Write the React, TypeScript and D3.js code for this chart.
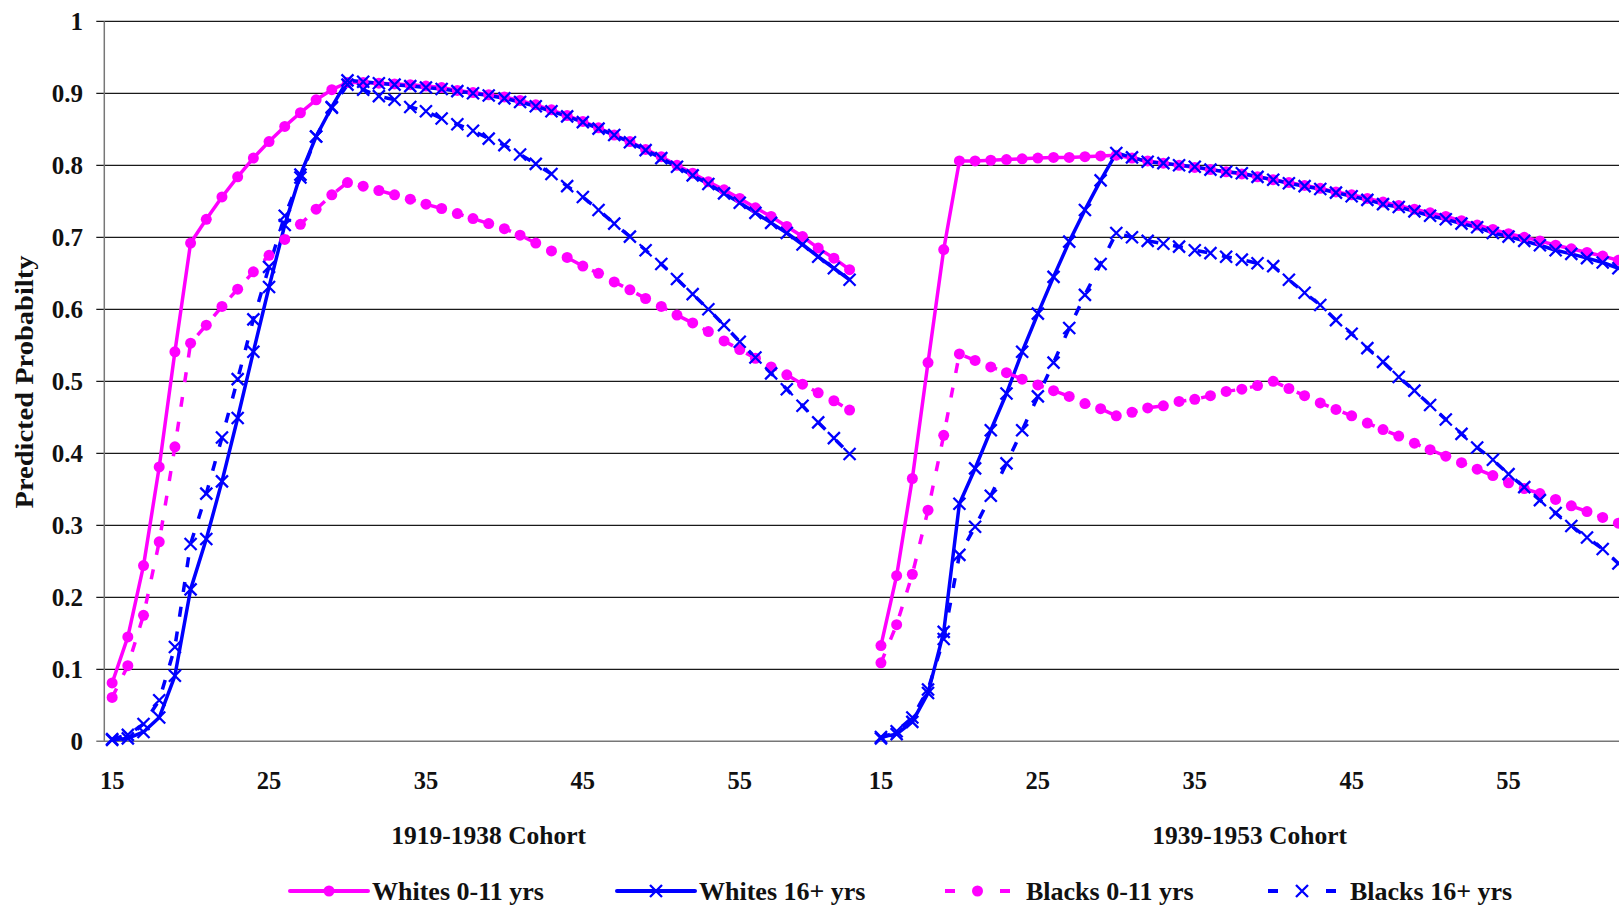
import React, { useEffect, useRef } from 'react';
import * as d3 from 'd3';

// ages shown in each cohort panel
const ages = d3.range(15, 63);
const cohorts = ['1919-1938 Cohort', '1939-1953 Cohort'];
const xTickAges = [15, 25, 35, 45, 55];
const yTicks = [0, 0.1, 0.2, 0.3, 0.4, 0.5, 0.6, 0.7, 0.8, 0.9, 1];
const yTickLabels = ['0', '0.1', '0.2', '0.3', '0.4', '0.5', '0.6', '0.7', '0.8', '0.9', '1'];

// 1919-1938 cohort
const whites011A = [0.081, 0.145, 0.244, 0.381, 0.541, 0.692, 0.725, 0.756, 0.784, 0.810, 0.833, 0.854, 0.873, 0.891, 0.905,
  0.915, 0.915, 0.914, 0.913, 0.912, 0.910, 0.908, 0.904, 0.901, 0.898, 0.895, 0.890, 0.884, 0.877, 0.869, 0.861, 0.852,
  0.842, 0.833, 0.822, 0.812, 0.800, 0.789, 0.777, 0.766, 0.754, 0.741, 0.729, 0.715, 0.701, 0.685, 0.671, 0.655];
const whites16A = [0.002, 0.004, 0.013, 0.033, 0.091, 0.211, 0.281, 0.361, 0.449, 0.541, 0.631, 0.717, 0.787, 0.840, 0.881,
  0.918, 0.916, 0.914, 0.912, 0.910, 0.908, 0.906, 0.903, 0.900, 0.897, 0.893, 0.888, 0.882, 0.875, 0.868, 0.860, 0.851,
  0.842, 0.832, 0.821, 0.810, 0.798, 0.786, 0.774, 0.761, 0.748, 0.734, 0.720, 0.706, 0.690, 0.673, 0.657, 0.641];
const blacks011A = [0.061, 0.105, 0.175, 0.277, 0.409, 0.553, 0.578, 0.604, 0.628, 0.652, 0.675, 0.697, 0.718, 0.739, 0.759,
  0.776, 0.771, 0.765, 0.759, 0.753, 0.746, 0.740, 0.733, 0.726, 0.719, 0.712, 0.703, 0.692, 0.681, 0.672, 0.660, 0.650,
  0.638, 0.627, 0.615, 0.604, 0.592, 0.581, 0.569, 0.556, 0.544, 0.532, 0.520, 0.509, 0.496, 0.484, 0.473, 0.460];
const blacks16A = [0.003, 0.009, 0.024, 0.057, 0.131, 0.274, 0.344, 0.422, 0.503, 0.586, 0.659, 0.730, 0.783, 0.840, 0.880,
  0.912, 0.905, 0.896, 0.891, 0.881, 0.875, 0.865, 0.857, 0.848, 0.837, 0.828, 0.815, 0.802, 0.788, 0.771, 0.756, 0.738,
  0.719, 0.701, 0.682, 0.663, 0.642, 0.621, 0.600, 0.578, 0.555, 0.533, 0.511, 0.489, 0.466, 0.443, 0.421, 0.399];

// 1939-1953 cohort
const whites011B = [0.133, 0.230, 0.365, 0.526, 0.683, 0.806, 0.806, 0.807, 0.808, 0.809, 0.810, 0.811, 0.811, 0.812, 0.813,
  0.814, 0.810, 0.806, 0.803, 0.800, 0.797, 0.794, 0.791, 0.788, 0.784, 0.780, 0.776, 0.772, 0.768, 0.763, 0.759, 0.754,
  0.749, 0.744, 0.739, 0.734, 0.729, 0.723, 0.717, 0.711, 0.705, 0.700, 0.695, 0.689, 0.684, 0.679, 0.674, 0.668];
const whites16B = [0.006, 0.010, 0.027, 0.067, 0.152, 0.330, 0.379, 0.432, 0.483, 0.541, 0.594, 0.645, 0.694, 0.738, 0.779,
  0.817, 0.811, 0.805, 0.803, 0.800, 0.798, 0.794, 0.791, 0.789, 0.784, 0.780, 0.775, 0.771, 0.767, 0.762, 0.757, 0.752,
  0.746, 0.742, 0.736, 0.730, 0.725, 0.719, 0.714, 0.706, 0.701, 0.695, 0.689, 0.682, 0.677, 0.671, 0.665, 0.657];
const blacks011B = [0.109, 0.162, 0.232, 0.321, 0.425, 0.538, 0.529, 0.520, 0.512, 0.503, 0.495, 0.487, 0.479, 0.469, 0.462,
  0.452, 0.457, 0.463, 0.466, 0.472, 0.475, 0.480, 0.486, 0.489, 0.494, 0.500, 0.490, 0.480, 0.470, 0.461, 0.452, 0.442,
  0.433, 0.424, 0.414, 0.405, 0.396, 0.387, 0.378, 0.369, 0.359, 0.351, 0.344, 0.336, 0.327, 0.319, 0.311, 0.303];
const blacks16B = [0.004, 0.014, 0.033, 0.072, 0.142, 0.259, 0.298, 0.341, 0.386, 0.432, 0.479, 0.526, 0.574, 0.620, 0.663,
  0.706, 0.700, 0.695, 0.691, 0.687, 0.682, 0.678, 0.673, 0.669, 0.664, 0.660, 0.641, 0.623, 0.606, 0.585, 0.566, 0.546,
  0.527, 0.506, 0.487, 0.467, 0.447, 0.427, 0.408, 0.391, 0.371, 0.353, 0.335, 0.317, 0.299, 0.283, 0.267, 0.247];

const seriesNames = ['Whites 0-11 yrs', 'Whites 16+ yrs', 'Blacks 0-11 yrs', 'Blacks 16+ yrs'];
const seriesValues = [
  [whites011A, whites011B],
  [whites16A, whites16B],
  [blacks011A, blacks011B],
  [blacks16A, blacks16B],
];

const MAGENTA = '#ff00ff';
const BLUE = '#0000ff';
const FONT = '"Liberation Serif", "Times New Roman", serif';

const App = () => {
  const svgRef = useRef(null);

  useEffect(() => {
    const width = 1619;
    const svg = d3.select(svgRef.current);
    svg.selectAll('*').remove();

    const marginLeft = 104.3;
    const top = 21.3;
    const bottom = 741.3;
    const step = 15.69;

    // one empty category between the two cohorts
    const nCats = ages.length * 2 + 1;
    const x = d3.scaleBand()
      .domain(d3.range(nCats))
      .range([marginLeft, marginLeft + nCats * step]);
    const cx = i => x(i) + x.bandwidth() / 2;

    const y = d3.scaleLinear().domain([0, 1]).range([bottom, top]);

    const styles = [
      { color: MAGENTA, dash: null, marker: 'circle' },
      { color: BLUE, dash: null, marker: 'x' },
      { color: MAGENTA, dash: '10,15', marker: 'circle' },
      { color: BLUE, dash: '10,15', marker: 'x' },
    ];
    // full-length array per series, with a gap between cohorts
    const series = seriesValues.map(([a, b]) => {
      const pts = [];
      a.forEach((v, i) => pts.push({ i, v }));
      pts.push({ i: ages.length, v: null });
      b.forEach((v, i) => pts.push({ i: ages.length + 1 + i, v }));
      return pts;
    });

    // grid
    svg.append('g').selectAll('line')
      .data(yTicks.filter(d => d > 0))
      .join('line')
      .attr('x1', marginLeft - 8)
      .attr('x2', width)
      .attr('y1', d => y(d))
      .attr('y2', d => y(d))
      .attr('stroke', '#1a1a1a')
      .attr('stroke-width', 1.2);

    // axis lines
    svg.append('line')
      .attr('x1', marginLeft - 8).attr('x2', width)
      .attr('y1', bottom).attr('y2', bottom)
      .attr('stroke', '#777').attr('stroke-width', 1.5);
    svg.append('line')
      .attr('x1', marginLeft).attr('x2', marginLeft)
      .attr('y1', top).attr('y2', bottom)
      .attr('stroke', '#777').attr('stroke-width', 1.5);

    // y tick labels
    svg.append('g').selectAll('text')
      .data(yTicks)
      .join('text')
      .attr('x', 83)
      .attr('y', d => y(d))
      .attr('dy', '0.35em')
      .attr('text-anchor', 'end')
      .attr('font-family', FONT)
      .attr('font-weight', 'bold')
      .attr('font-size', 25)
      .attr('fill', '#111')
      .text((d, i) => yTickLabels[i]);

    // x tick labels
    const xLabels = [];
    xTickAges.forEach(a => xLabels.push(a - 15));
    xTickAges.forEach(a => xLabels.push(ages.length + 1 + a - 15));
    svg.append('g').selectAll('text')
      .data(xLabels)
      .join('text')
      .attr('x', d => cx(d))
      .attr('y', 789)
      .attr('text-anchor', 'middle')
      .attr('font-family', FONT)
      .attr('font-weight', 'bold')
      .attr('font-size', 24.5)
      .attr('fill', '#111')
      .text(d => ages[d % (ages.length + 1)]);

    // cohort labels
    svg.append('g').selectAll('text')
      .data(cohorts)
      .join('text')
      .attr('x', (d, i) => (i === 0 ? cx(24) : cx(72) + 7.8))
      .attr('y', 844)
      .attr('text-anchor', 'middle')
      .attr('font-family', FONT)
      .attr('font-weight', 'bold')
      .attr('font-size', 25.5)
      .attr('fill', '#111')
      .text(d => d);

    // y axis title
    svg.append('text')
      .attr('transform', 'translate(33,382) rotate(-90)')
      .attr('text-anchor', 'middle')
      .attr('font-family', FONT)
      .attr('font-weight', 'bold')
      .attr('font-size', 26)
      .attr('textLength', 253)
      .attr('lengthAdjust', 'spacingAndGlyphs')
      .attr('fill', '#111')
      .text('Predicted Probabilty');

    const line = d3.line()
      .defined(d => d.v !== null)
      .x(d => cx(d.i))
      .y(d => y(d.v));

    const plot = svg.append('g');
    // lines first, then markers on top
    series.forEach((pts, k) => {
      plot.append('path')
        .attr('d', line(pts))
        .attr('fill', 'none')
        .attr('stroke', styles[k].color)
        .attr('stroke-width', 3.5)
        .attr('stroke-dasharray', styles[k].dash)
        .attr('stroke-linejoin', 'round');
    });

    const drawMarker = (g, px, py, st) => {
      if (st.marker === 'circle') {
        g.append('circle').attr('cx', px).attr('cy', py).attr('r', 5.5).attr('fill', st.color);
      } else {
        const s = 6;
        g.append('path')
          .attr('d', `M${px - s},${py - s}L${px + s},${py + s}M${px - s},${py + s}L${px + s},${py - s}`)
          .attr('stroke', st.color)
          .attr('stroke-width', 2.3)
          .attr('fill', 'none');
      }
    };

    series.forEach((pts, k) => {
      const g = plot.append('g');
      pts.filter(d => d.v !== null).forEach(d => drawMarker(g, cx(d.i), y(d.v), styles[k]));
    });

    // legend
    const legendItems = [
      { x1: 290, x2: 368, tx: 372 },
      { x1: 617, x2: 695, tx: 699 },
      { x1: 945, x2: 1010, tx: 1026 },
      { x1: 1268, x2: 1336, tx: 1350 },
    ];
    const legend = svg.append('g');
    legendItems.forEach((it, k) => {
      const st = styles[k];
      const ly = 891;
      if (st.dash) {
        legend.append('line').attr('x1', it.x1).attr('x2', it.x1 + 10).attr('y1', ly).attr('y2', ly)
          .attr('stroke', st.color).attr('stroke-width', 4);
        legend.append('line').attr('x1', it.x2 - 10).attr('x2', it.x2).attr('y1', ly).attr('y2', ly)
          .attr('stroke', st.color).attr('stroke-width', 4);
      } else {
        legend.append('line').attr('x1', it.x1).attr('x2', it.x2).attr('y1', ly).attr('y2', ly)
          .attr('stroke', st.color).attr('stroke-width', 4).attr('stroke-linecap', 'round');
      }
      drawMarker(legend, (it.x1 + it.x2) / 2, ly, st);
      legend.append('text')
        .attr('x', it.tx)
        .attr('y', 900)
        .attr('font-family', FONT)
        .attr('font-weight', 'bold')
        .attr('font-size', 26)
        .attr('fill', '#111')
        .text(seriesNames[k]);
    });
  }, []);

  return (
    <div style={{ position: 'absolute', left: 0, top: 0, background: '#fff' }}>
      <svg ref={svgRef} width={1619} height={908} style={{ display: 'block' }} />
    </div>
  );
};

export default App;
